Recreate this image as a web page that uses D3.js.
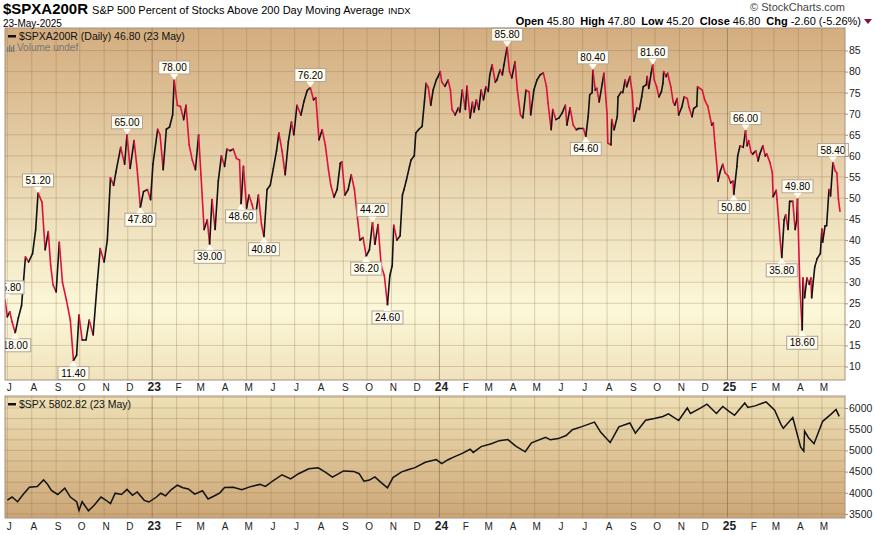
<!DOCTYPE html>
<html lang="en">
<head>
<meta charset="UTF-8">
<title>$SPXA200R</title>
<script src="https://d3js.org/d3.v7.min.js"></script>
<style>
  body { margin: 0; background: #fff; }
  text { font-family: "Liberation Sans", Arial, sans-serif; }
</style>
</head>
<body>
<svg id="chart" width="875" height="535"></svg>
<script>
// days since 1 Jul 2022
const breadthDays = [-3,0,3,6,10,14,18,23,27,32,36,39,44,48,52,55,58,62,66,70,75,80,84,88,91,95,100,104,109,114,118,123,127,131,135,138,144,149,152,156,161,165,169,173,178,182,185,191,194,198,202,206,210,212,216,220,224,227,231,235,239,243,246,250,254,257,260,264,268,272,276,279,283,287,291,295,297,300,304,307,311,315,319,323,326,330,334,338,342,345,349,353,357,361,364,368,373,377,381,385,389,392,396,400,404,408,411,415,419,423,425,429,433,437,441,445,448,452,456,460,464,467,471,475,479,483,486,489,491,495,499,502,504,507,511,513,517,519,523,527,530,532,535,538,541,545,547,550,552,556,560,563,565,569,573,575,578,582,584,588,591,593,596,599,602,605,608,611,613,616,620,622,626,629,631,635,638,641,645,648,652,655,659,663,665,669,673,677,681,685,687,691,693,697,701,705,709,711,715,719,723,726,732,735,738,740,743,744,747,749,752,756,758,762,763,767,768,771,775,776,780,782,785,787,791,794,796,800,803,806,808,812,813,815,818,820,822,825,828,831,833,834,837,839,843,846,848,851,853,857,860,864,866,870,872,876,877,883,886,890,895,897,899,902,903,906,909,912,916,919,922,923,927,928,931,935,938,940,942,945,947,951,954,956,960,963,965,969,972,973,977,978,982,984,987,989,992,994,998,1001,1003,1004,1007,1010,1011,1013,1016,1019,1021,1022,1024,1026,1029,1033,1035,1036,1039,1041,1044,1046,1049,1052,1054,1056,1058];
const breadthValues = [25.8,21.8,23,20.6,18,21.6,24.4,36,34.8,36.8,42.5,51.2,49,37.7,42,34,29.4,27.7,39.5,30,25.8,21,11.4,12.7,22.2,16.3,16.3,21,17.5,29.4,38,34.8,40,54.8,53,56.2,62,58,65,57,63.6,56.7,47.8,51.5,52,49.6,58,66.3,65,56.7,66.3,66.8,69.7,78,72,71.7,68.6,72,62.6,59,56.7,65,55.5,42.5,44.8,39,49.6,42.5,54,60,57.5,61.6,61.2,61.6,59.4,59,48.6,57.5,47.6,50.7,48.4,45.3,50.7,43.6,40.8,52,53,57,61.2,65.4,61.2,55.5,63.3,68,65,72,69.7,73,75.5,76.2,73.3,73.8,63.8,66.2,62.6,56.7,53,50.2,52,58.2,58.6,50.7,52,55.5,52,45,40,40.6,36.2,37.7,44.2,39,43.7,33.9,31.6,24.6,31.6,33.9,43.5,40,41,50.7,52,54.2,57.5,59,60,65.4,66.3,67,73,77.2,76.2,72,75.6,78,78.7,80,77.5,76.5,78,75.6,71,69.7,71.4,70.4,75.6,71,76.5,69,72.7,70.4,73.3,71,75.6,73.3,76.4,75.3,79.2,81.6,77.5,78,80.4,79.2,81.6,85.8,80,78.5,82.3,75.6,69.7,69,75.6,75.2,69.7,75.6,78,79.2,79.7,76.5,72.5,66.2,71,68.6,69,70.2,72,67.3,71.4,67.3,66.2,66.5,66.5,64.6,69.3,74.5,75,80.4,75.6,76,72.8,77.2,79.6,70,63,62.6,68.6,66.2,69.3,74,75.2,75,78,76.4,78.8,75,68.2,71.4,71,74,76.4,76.9,78.8,76,79.6,81.6,78,76.4,74,75.2,77.2,80,78.8,79.6,76.4,72.8,72,73.6,69.7,71.6,74,73.6,71.6,69.3,71.2,71.8,76.4,75.6,73.3,71.8,67.3,67.8,63,56.7,54,56.4,58,56,55.2,53.6,54,50.8,57.5,60,62.4,62,66,62.4,63.6,60.8,60.4,61.2,58.8,60.4,62.4,60,60.4,58.4,56,50.3,51.8,49.6,40,35.8,44.8,46,42.5,49.2,49.2,42.5,44.8,49.8,29,18.6,31,26.3,31,29.5,31,26.3,30.2,33.7,35.6,36.8,42.6,39.5,43.4,43.4,52,50.5,58.4,56.4,56,49.7,46.8];

const spxDays = [0,6,13,20,28,38,46,51,56,64,73,80,88,91,95,103,110,119,125,131,137,145,152,159,165,174,180,189,195,201,208,216,223,230,238,248,255,264,270,276,287,298,308,321,328,338,349,360,370,383,395,404,413,420,427,440,447,453,460,467,475,483,490,501,510,518,531,545,552,560,567,578,588,592,602,615,625,636,646,658,666,684,690,700,710,718,730,746,754,766,770,777,791,798,811,822,833,840,853,864,868,880,889,901,909,917,924,937,941,950,964,975,983,986,998,1008,1012,1013,1018,1025,1036,1046,1053,1057];
const spxValues = [3825,3900,3790,3960,4130,4150,4305,4200,4057,3960,4110,3900,3790,3585,3790,3577,3700,3900,3830,3748,3991,3960,4080,3940,4019,3822,3783,3895,3990,3928,4070,4179,4120,4090,3970,4048,3855,3936,4000,4124,4130,4071,4140,4198,4151,4290,4426,4328,4450,4565,4589,4490,4370,4440,4515,4505,4450,4274,4300,4376,4240,4117,4360,4495,4550,4594,4719,4783,4688,4780,4840,4930,5027,4953,5090,5157,5230,5254,5100,4967,5180,5308,5250,5278,5350,5487,5560,5667,5427,5186,5320,5554,5648,5408,5713,5750,5800,5864,5705,6001,5870,5990,6090,5872,6037,5920,5827,6119,6012,6050,6144,5950,5614,5521,5777,5074,4982,5457,5300,5158,5686,5844,5963,5802];

// annotated highs / lows: day, value, side
const annDays = [-3,10,39,84,152,169,212,257,297,326,385,464,456,483,635,744,735,820,923,938,984,1004,1010,1049];
const annValues = [25.8,18,51.2,11.4,65,47.8,78,39,48.6,40.8,76.2,44.2,36.2,24.6,85.8,80.4,64.6,81.6,50.8,66,35.8,49.8,18.6,58.4];
const annSides = ["up","down","up","down","up","down","up","down","down","down","up","up","down","down","up","up","down","up","down","up","down","up","down","up"];

const breadthTicks = [10,15,20,25,30,35,40,45,50,55,60,65,70,75,80,85];
const spxTicks = [3500,4000,4500,5000,5500,6000];

const t0 = new Date(2022, 6, 1);
const toDate = d => d3.timeDay.offset(t0, d);
const breadth = breadthDays.map((d, i) => ({ date: toDate(d), v: breadthValues[i] }));
const spx = spxDays.map((d, i) => ({ date: toDate(d), v: spxValues[i] }));

const svg = d3.select("#chart");
const L = 5, R = 845;
const p1 = { top: 28, bottom: 380 };
const p2 = { top: 396, bottom: 518 };

const x = d3.scaleTime()
    .domain([new Date(2022, 5, 28), new Date(2025, 4, 24)])
    .range([L, 840]);
const y1 = d3.scaleLinear().domain([10, 85]).range([366.5, 50.5]);
const y2 = d3.scaleLinear().domain([3500, 6000]).range([514, 408]);

// gradients
const defs = svg.append("defs");
const g1 = defs.append("linearGradient").attr("id", "bg1").attr("x1", 0).attr("x2", 0).attr("y1", 0).attr("y2", 1);
g1.append("stop").attr("offset", "0%").attr("stop-color", "#d3ad7f");
g1.append("stop").attr("offset", "80%").attr("stop-color", "#fbf8d9");
g1.append("stop").attr("offset", "100%").attr("stop-color", "#f0e2bb");
const g2 = defs.append("linearGradient").attr("id", "bg2").attr("x1", 0).attr("x2", 0).attr("y1", 0).attr("y2", 1);
g2.append("stop").attr("offset", "0%").attr("stop-color", "#eee0b6");
g2.append("stop").attr("offset", "100%").attr("stop-color", "#cca676");

svg.append("rect").attr("x", L).attr("y", p1.top).attr("width", R - L).attr("height", p1.bottom - p1.top).attr("fill", "url(#bg1)");
svg.append("rect").attr("x", L).attr("y", p2.top).attr("width", R - L).attr("height", p2.bottom - p2.top).attr("fill", "url(#bg2)");

const months = x.ticks(d3.timeMonth.every(1)).filter(d => x(d) > L);
const gridCol = "rgba(140,105,60,0.28)";

function grid(top, bottom, yScale, vals) {
    const g = svg.append("g");
    g.selectAll(".vg").data(months).enter().append("line")
        .attr("x1", d => x(d)).attr("x2", d => x(d)).attr("y1", top).attr("y2", bottom)
        .attr("stroke", d => d.getMonth() === 0 ? "rgba(120,90,50,0.5)" : gridCol);
    g.selectAll(".hg").data(vals).enter().append("line")
        .attr("x1", L).attr("x2", R).attr("y1", d => yScale(d)).attr("y2", d => yScale(d))
        .attr("stroke", gridCol);
}
grid(p1.top, p1.bottom, y1, d3.range(10, 90, 5).filter(v => y1(v) > p1.top));
grid(p2.top, p2.bottom, y2, d3.range(3500, 6251, 250).filter(v => y2(v) > p2.top));

// breadth line, red on down days
svg.append("g").selectAll("line").data(breadth.slice(1)).enter().append("line")
    .attr("x1", (d, i) => x(breadth[i].date)).attr("y1", (d, i) => y1(breadth[i].v))
    .attr("x2", d => x(d.date)).attr("y2", d => y1(d.v))
    .attr("stroke", (d, i) => d.v < breadth[i].v ? "#e0103c" : "#111")
    .attr("stroke-width", 1.6).attr("stroke-linecap", "round");

svg.append("path").datum(spx)
    .attr("fill", "none").attr("stroke", "#111").attr("stroke-width", 1.5)
    .attr("d", d3.line().x(d => x(d.date)).y(d => y2(d.v)));

// annotations
const ann = svg.append("g");
annDays.forEach((d, i) => {
    const px = Math.max(x(toDate(d)), L + 1), py = y1(annValues[i]);
    const up = annSides[i] === "up";
    const label = annValues[i].toFixed(2);
    const w = 31, h = 13;
    const by = up ? py - 6 - h : py + 6;
    const bx = Math.max(px - w / 2, L - 12);
    const gg = ann.append("g");
    gg.append("rect").attr("x", bx).attr("y", by).attr("width", w).attr("height", h)
        .attr("fill", "#fffcf0").attr("stroke", "#b3a394");
    gg.append("path")
        .attr("d", up ? `M${px - 4},${by + h} L${px},${py} L${px + 4},${by + h} Z`
                      : `M${px - 4},${by} L${px},${py} L${px + 4},${by} Z`)
        .attr("fill", "#fffcf0");
    gg.append("text").attr("x", bx + w / 2).attr("y", by + 10).attr("text-anchor", "middle")
        .attr("font-size", "10px").attr("fill", "#000").text(label);
});

// clip left overflow
svg.append("rect").attr("x", 0).attr("y", p1.top).attr("width", L).attr("height", p1.bottom - p1.top).attr("fill", "#fff");

// borders
[p1, p2].forEach(p => svg.append("rect").attr("x", L).attr("y", p.top).attr("width", R - L)
    .attr("height", p.bottom - p.top).attr("fill", "none").attr("stroke", "#a88f80"));

// right axes
function rightAxis(scale, vals) {
    svg.append("g").attr("transform", `translate(${R},0)`)
        .call(d3.axisRight(scale).tickValues(vals).tickFormat(d3.format("d")).tickSize(3).tickPadding(1))
        .call(g => g.select(".domain").remove())
        .call(g => g.selectAll("line").attr("stroke", "#a88f80"))
        .selectAll("text").attr("font-size", "10.5px").attr("fill", "#222").attr("font-family", "Liberation Sans, Arial");
}
rightAxis(y1, breadthTicks);
rightAxis(y2, spxTicks);

// month labels
function monthLabels(yy) {
    svg.append("g").selectAll("text").data([new Date(2022, 6, 1)].concat(months.slice(1))).enter().append("text")
        .attr("x", d => x(d) + 2).attr("y", yy).attr("text-anchor", "middle")
        .attr("font-size", d => d.getMonth() === 0 ? "12px" : "10px")
        .attr("font-weight", d => d.getMonth() === 0 ? "bold" : "normal")
        .attr("fill", "#222")
        .text(d => d.getMonth() === 0 ? d3.timeFormat("%y")(d) : d3.timeFormat("%b")(d)[0]);
}
monthLabels(391);
monthLabels(530);

// header
const h = svg.append("text").attr("x", 3).attr("y", 14);
h.append("tspan").attr("font-size", "15px").attr("font-weight", "bold").text("$SPXA200R");
h.append("tspan").attr("font-size", "11px").attr("dx", 4).text("S&P 500 Percent of Stocks Above 200 Day Moving Average");
h.append("tspan").attr("font-size", "9.5px").attr("dx", 4).text("INDX");
svg.append("text").attr("x", 3).attr("y", 26.5).attr("font-size", "10px").text("23-May-2025");
svg.append("text").attr("x", 845).attr("y", 11).attr("text-anchor", "end").attr("font-size", "11px")
    .attr("fill", "#444").text("© StockCharts.com");

const q = svg.append("text").attr("x", 861).attr("y", 25).attr("text-anchor", "end").attr("font-size", "11px");
[["Open", "45.80"], ["High", "47.80"], ["Low", "45.20"], ["Close", "46.80"], ["Chg", "-2.60 (-5.26%)"]].forEach((p, i) => {
    q.append("tspan").attr("font-weight", "bold").attr("dx", i ? 6 : 0).text(p[0]);
    q.append("tspan").attr("dx", 3).text(p[1]);
});
svg.append("path").attr("d", "M864,19 L872,19 L868,24 Z").attr("fill", "#8b1030");

// legends
svg.append("rect").attr("x", 8).attr("y", 35).attr("width", 8).attr("height", 2.5).attr("fill", "#111");
svg.append("text").attr("x", 19).attr("y", 40).attr("font-family", "DejaVu Sans").attr("font-size", "10.5px")
    .attr("fill", "#111").text("$SPXA200R (Daily) 46.80 (23 May)");
[0, 1, 2, 3].forEach(i => svg.append("rect").attr("x", 7 + i * 2).attr("y", 44 + (i % 2 ? 1 : 3))
    .attr("width", 1.3).attr("height", i % 2 ? 7 : 5).attr("fill", "#777"));
svg.append("text").attr("x", 17).attr("y", 51).attr("font-family", "DejaVu Sans").attr("font-size", "10px")
    .attr("fill", "#777").text("Volume undef");

svg.append("rect").attr("x", 8).attr("y", 403).attr("width", 8).attr("height", 2.5).attr("fill", "#111");
svg.append("text").attr("x", 19).attr("y", 408).attr("font-family", "DejaVu Sans").attr("font-size", "10.5px")
    .attr("fill", "#111").text("$SPX 5802.82 (23 May)");
</script>
</body>
</html>
